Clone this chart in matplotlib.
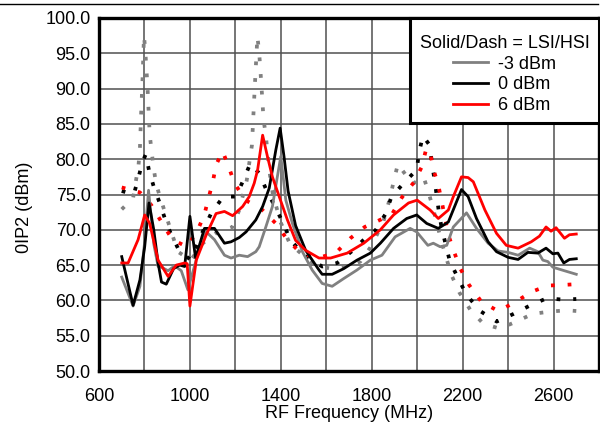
import matplotlib
matplotlib.use("Agg")
import matplotlib.pyplot as plt
from matplotlib.lines import Line2D
from matplotlib.patches import Rectangle

plt.rcParams['font.family'] = ['Liberation Sans', 'DejaVu Sans']
plt.rcParams['font.size'] = 13

# LSI (solid) curves
f_lsi_m3 = [700, 750, 780, 800, 818, 841, 860, 875, 904, 933, 962, 991, 1042, 1072, 1108, 1152, 1181,
            1217, 1254, 1290, 1305, 1334, 1363, 1382, 1400, 1422, 1451, 1495, 1538, 1582, 1626, 1677,
            1735, 1794, 1845, 1903, 1969, 1998, 2047, 2071, 2101, 2130, 2159, 2217, 2261, 2312, 2356,
            2400, 2444, 2495, 2531, 2553, 2575, 2597, 2648, 2700]
v_lsi_m3 = [63.3, 59.2, 62.0, 68.0, 75.6, 68.0, 64.8, 64.7, 64.2, 64.9, 64.2, 61.5, 67.4, 69.7, 68.6, 66.4, 66.0,
            66.4, 66.2, 66.9, 67.6, 70.4, 73.3, 77.0, 80.4, 74.2, 70.9, 66.9, 64.3, 62.4, 62.0, 63.1,
            64.3, 65.7, 66.4, 69.0, 70.2, 69.7, 67.8, 68.1, 67.6, 67.8, 70.4, 72.4, 70.2, 68.1, 67.0,
            66.8, 66.4, 67.4, 66.9, 65.7, 65.5, 64.7, 64.2, 63.7]

f_lsi_0 = [700, 750, 780, 801, 820, 841, 860, 875, 896, 928, 955, 977, 1000, 1025, 1064, 1108, 1152, 1181,
           1217, 1247, 1290, 1320, 1349, 1378, 1397, 1414, 1432, 1465, 1509, 1568, 1582, 1626, 1677, 1735,
           1794, 1838, 1896, 1954, 1998, 2042, 2093, 2137, 2195, 2224, 2261, 2312, 2349, 2400, 2444,
           2487, 2531, 2567, 2597, 2619, 2645, 2670, 2700]
v_lsi_0 = [66.2, 59.3, 62.9, 67.6, 73.8, 70.0, 65.3, 62.6, 62.3, 64.5, 65.0, 64.8, 71.9, 66.0, 70.2, 70.2, 68.1, 68.3,
           68.9, 69.7, 71.4, 73.3, 75.9, 81.3, 84.4, 80.4, 75.5, 70.6, 67.1, 64.3, 63.7, 63.7, 64.5, 65.7,
           66.7, 68.1, 70.2, 71.6, 72.1, 70.9, 70.2, 71.1, 75.7, 74.7, 71.6, 68.3, 66.9, 66.1, 65.8,
           66.8, 66.7, 67.4, 66.6, 66.7, 65.3, 65.8, 65.9]

f_lsi_6 = [700, 728, 772, 801, 823, 860, 904, 940, 977, 988, 1000, 1028, 1072, 1115, 1152, 1188, 1232, 1261,
           1283, 1298, 1320, 1341, 1363, 1393, 1429, 1465, 1509, 1568, 1619, 1692, 1765, 1838, 1896,
           1962, 2000, 2057, 2093, 2137, 2159, 2195, 2224, 2247, 2298, 2349, 2392, 2444, 2502, 2538,
           2567, 2589, 2611, 2648, 2670, 2700]
v_lsi_6 = [65.3, 65.3, 68.6, 72.1, 70.9, 65.7, 63.4, 65.0, 65.3, 65.2, 59.2, 65.7, 69.3, 72.3, 72.6, 72.0, 73.3, 74.7,
           76.6, 78.5, 83.4, 80.4, 77.5, 74.7, 71.4, 68.5, 67.1, 66.0, 66.0, 66.7, 68.1, 70.0, 72.1,
           73.8, 74.2, 72.8, 71.6, 72.8, 74.7, 77.5, 77.4, 76.8, 72.8, 69.5, 67.8, 67.4, 68.3, 69.1,
           70.4, 69.8, 70.3, 68.8, 69.3, 69.4]

# HSI (dotted) curves
f_hsi_m3 = [700, 750, 774, 780, 785, 791, 798, 804, 813, 823, 840, 852, 870, 900, 947, 1004, 1057, 1122,
            1188, 1217, 1250, 1273, 1285, 1297, 1305, 1315, 1324, 1334, 1349, 1365, 1400, 1440, 1480,
            1550, 1620, 1700, 1750, 1794, 1850, 1882, 1896, 1915, 1940, 1980, 2028, 2050, 2071, 2108,
            2130, 2152, 2186, 2233, 2291, 2364, 2436, 2509, 2582, 2655, 2700]
v_hsi_m3 = [72.9, 74.5, 79.2, 81.5, 86.2, 90.8, 97.5, 95.2, 90.5, 83.5, 78.8, 76.4, 74.5, 71.5, 66.9, 65.7, 68.1, 69.7,
            70.4, 72.8, 77.0, 82.0, 90.0, 97.4, 95.0, 90.3, 85.6, 83.4, 78.5, 75.0, 71.0, 68.0, 66.9,
            65.0, 64.5, 64.8, 65.5, 67.5, 71.0, 74.7, 76.8, 79.3, 78.2, 76.5, 77.5, 75.3, 72.9, 68.2,
            65.8, 63.5, 61.1, 58.7, 56.7, 56.0, 57.0, 58.1, 58.4, 58.6, 58.5]

f_hsi_0 = [700, 753, 773, 791, 806, 820, 841, 867, 892, 918, 955, 1002, 1028, 1060, 1093, 1147, 1203, 1236,
           1266, 1305, 1337, 1374, 1411, 1441, 1502, 1582, 1648, 1714, 1765, 1816, 1860, 1886, 1940,
           1998, 2008, 2025, 2057, 2064, 2076, 2086, 2096, 2108, 2144, 2181, 2217, 2277, 2350, 2425,
           2498, 2570, 2645, 2700]
v_hsi_0 = [75.5, 75.0, 77.3, 79.6, 80.7, 78.4, 76.1, 73.8, 71.4, 69.3, 66.9, 65.8, 67.6, 70.0, 72.3, 74.7, 74.7, 77.1,
           79.4, 78.0, 75.6, 73.3, 70.9, 68.6, 66.4, 64.8, 65.3, 67.0, 68.6, 69.9, 72.2, 74.6, 76.6,
           78.5, 80.9, 83.3, 81.9, 79.5, 77.2, 74.8, 72.4, 70.2, 65.5, 63.1, 60.8, 58.5, 57.0, 58.1,
           59.3, 60.3, 60.1, 60.2]

f_hsi_6 = [700, 780, 830, 879, 923, 987, 1035, 1064, 1082, 1101, 1115, 1144, 1171, 1196, 1244, 1313, 1378,
           1429, 1488, 1560, 1641, 1706, 1769, 1830, 1889, 1933, 1985, 2020, 2040, 2057, 2071, 2093,
           2108, 2137, 2162, 2190, 2228, 2283, 2356, 2429, 2502, 2575, 2648, 2700]
v_hsi_6 = [76.0, 75.3, 73.5, 70.9, 68.6, 67.6, 70.0, 72.2, 74.5, 76.8, 79.2, 81.1, 78.9, 76.6, 74.2, 73.0, 70.9,
           68.6, 66.7, 66.0, 66.7, 68.8, 70.4, 71.3, 72.2, 74.6, 76.7, 78.9, 81.5, 81.0, 78.6, 76.3,
           74.0, 69.3, 66.9, 64.5, 62.2, 59.8, 58.5, 59.7, 61.2, 62.1, 62.2, 62.3]

x_ticks = list(range(600, 2801, 200))
x_labels = ['600', '', '1000', '', '1400', '', '1800', '', '2200', '', '2600', '']
y_ticks = [50, 55, 60, 65, 70, 75, 80, 85, 90, 95, 100]

gray = '#808080'
red = '#ff0000'

fig = plt.figure(figsize=(6.0, 4.24), dpi=100)
ax = fig.add_axes([99 / 600, 1 - 371 / 424, 500 / 600, 353 / 424])

dot = (0, (1, 3.45))
ax.plot(f_hsi_m3, v_hsi_m3, color=gray, lw=2.7, linestyle=dot)
ax.plot(f_hsi_0, v_hsi_0, color='black', lw=2.7, linestyle=dot)
ax.plot(f_hsi_6, v_hsi_6, color=red, lw=2.7, linestyle=dot)

l1, = ax.plot(f_lsi_m3, v_lsi_m3, color=gray, lw=2.0)
l2, = ax.plot(f_lsi_0, v_lsi_0, color='black', lw=2.0)
l3, = ax.plot(f_lsi_6, v_lsi_6, color=red, lw=2.0)

ax.set_xlim(600, 2800)
ax.set_ylim(50, 100)
ax.set_xticks(x_ticks)
ax.set_xticklabels(x_labels)
ax.set_yticks(y_ticks)
ax.set_yticklabels(['%.1f' % y for y in y_ticks])
ax.tick_params(length=0, labelsize=13)
ax.tick_params(axis='y', pad=6)
ax.tick_params(axis='x', pad=12)
ax.grid(True, color='#505050', lw=1.1)
ax.set_axisbelow(True)
for s in ax.spines.values():
    s.set_linewidth(2.4)
    s.set_color('black')

ax.set_xlabel('RF Frequency (MHz)', fontsize=13, labelpad=0)
ax.set_ylabel('0IP2 (dBm)', fontsize=13)
ax.yaxis.set_label_coords(-0.132, 0.465)

# legend box: drawn as its own frame, legend text centred inside
box_x, box_y = (410 - 99) / 500, (371 - 123) / 353
box = Rectangle((box_x, box_y), 1 - box_x, 1 - box_y, transform=ax.transAxes,
                facecolor='white', edgecolor='black', lw=2.2, zorder=4.5, clip_on=False)
ax.add_patch(box)
shift = 4 / 353
leg = ax.legend([l1, l2, l3], ['-3 dBm', '0 dBm', '6 dBm'], title='Solid/Dash = LSI/HSI',
                loc='center', bbox_to_anchor=(box_x, box_y - shift, 1 - box_x, 1 - box_y),
                borderaxespad=0, fontsize=13, title_fontsize=13, frameon=False,
                borderpad=0.3, labelspacing=0.2, handlelength=1.9, handletextpad=0.55)

fig.add_artist(Line2D([0, 598 / 600], [1 - 4 / 424, 1 - 4 / 424], transform=fig.transFigure,
                      color='black', lw=1.0))

fig.savefig('out.png', dpi=100)
